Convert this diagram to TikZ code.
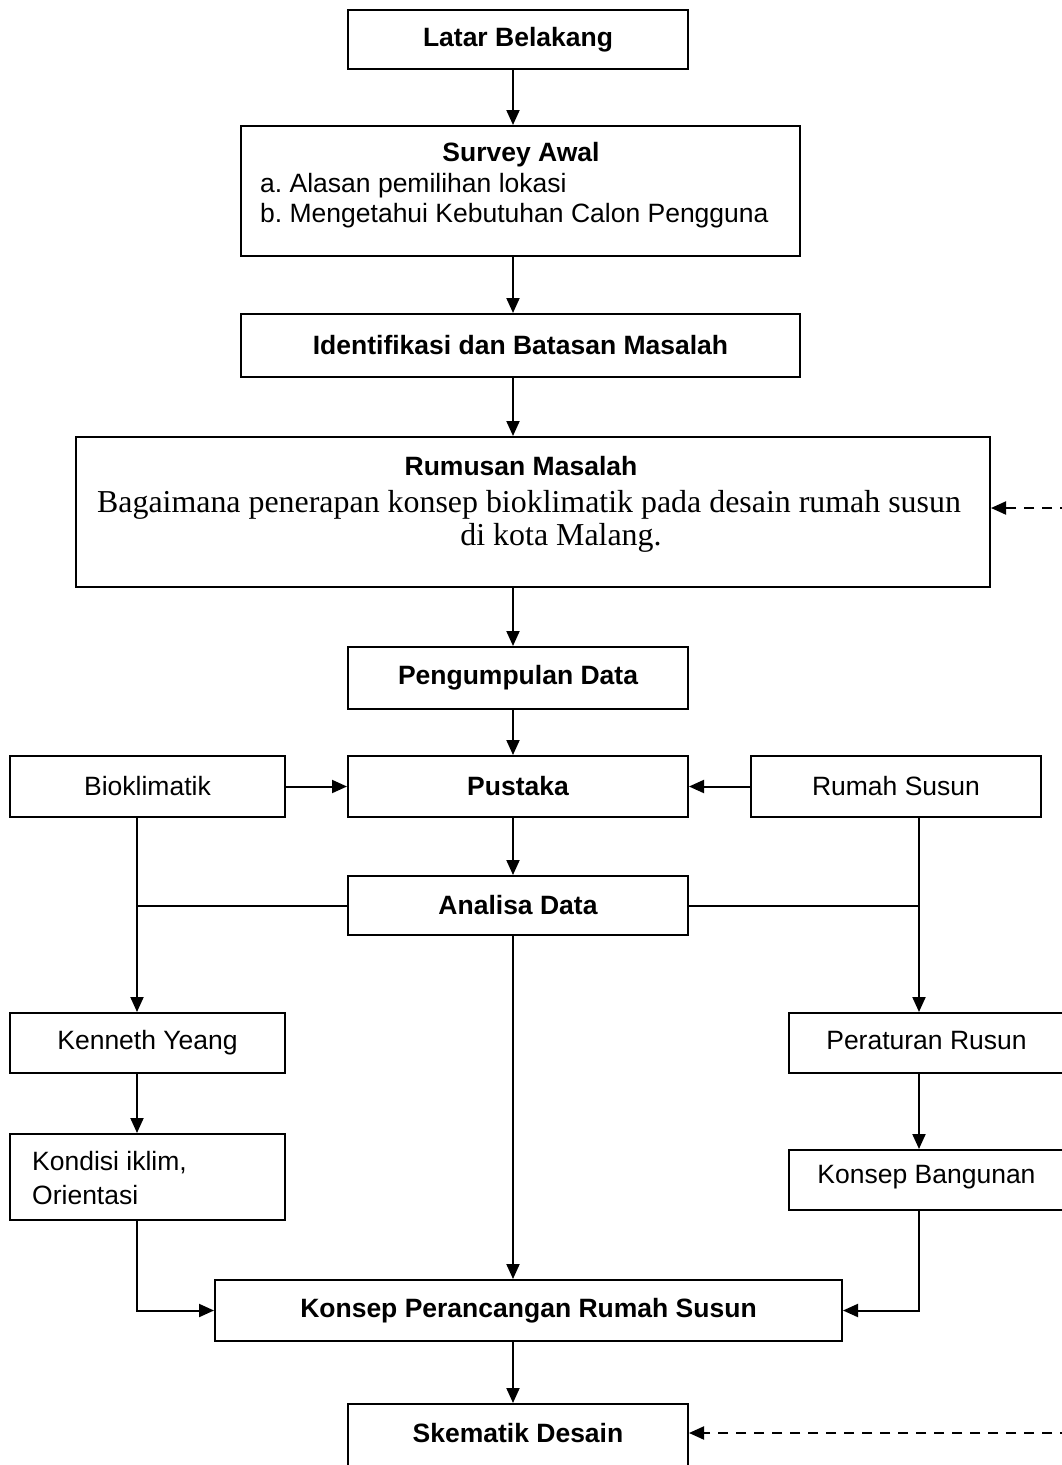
\documentclass[tikz,border=0pt]{standalone}
\usepackage{fontspec}
\setmainfont{Liberation Sans}
\newfontfamily\timesfont{Liberation Serif}
\usetikzlibrary{arrows.meta}
\frenchspacing
\tikzset{
  box/.style={draw, line width=2pt, inner sep=0pt, align=center, font=\fontsize{26.5}{30}\selectfont},
  arr/.style={line width=2pt, -{Triangle[length=15pt,width=13pt]}},
  plain/.style={line width=2pt},
  dasharr/.style={line width=2pt, dash pattern=on 10pt off 8pt, -{Triangle[length=15pt,width=13pt]}},
  txt/.style={inner sep=0pt, font=\fontsize{26.5}{30}\selectfont},
  serif/.style={inner sep=0pt, font=\timesfont\fontsize{31.9}{36}\selectfont}
}
\begin{document}
\begin{tikzpicture}[x=1pt,y=-1pt]
\useasboundingbox (0,0) rectangle (1062,1465);
\clip (0,0) rectangle (1062,1465);
\fill[white] (0,0) rectangle (1062,1465);

% boxes
\node[box, minimum width=340pt, minimum height=59pt] (latar) at (518,39.5) {\bfseries Latar Belakang};
\node[box, minimum width=559pt, minimum height=130pt] (survey) at (520.5,191) {};
\node[txt, anchor=base] (surveyT) at (521,161) {\bfseries Survey Awal};
\node[txt, anchor=base west] (surveyA) at (260,192) {a. Alasan pemilihan lokasi};
\node[txt, anchor=base west] (surveyB) at (260,222) {b. Mengetahui Kebutuhan Calon Pengguna};

\node[box, minimum width=559pt, minimum height=63pt] (ident) at (520.5,345.5) {\bfseries Identifikasi dan Batasan Masalah};

\node[box, minimum width=914pt, minimum height=150pt] (rumusan) at (533,512) {};
\node[txt, anchor=base] (rumusanT) at (521,475) {\bfseries Rumusan Masalah};
\node[serif, anchor=base] (rumusanA) at (529,512) {Bagaimana penerapan konsep bioklimatik pada desain rumah susun};
\node[serif, anchor=base] (rumusanB) at (561,545) {di kota Malang.};

\node[box, minimum width=340pt, minimum height=62pt] (kumpul) at (518,678) {\bfseries Pengumpulan Data};
\node[box, minimum width=340pt, minimum height=61pt] (pustaka) at (518,786.5) {\bfseries Pustaka};
\node[box, minimum width=275pt, minimum height=61pt] (bio) at (147.5,786.5) {Bioklimatik};
\node[box, minimum width=290pt, minimum height=61pt] (rumah) at (896,786.5) {Rumah Susun};
\node[box, minimum width=340pt, minimum height=59pt] (analisa) at (518,905.5) {\bfseries Analisa Data};

\node[box, minimum width=275pt, minimum height=60pt] (kenneth) at (147.5,1043) {Kenneth Yeang};
\node[box, minimum width=276pt, minimum height=60pt] (peraturan) at (927,1043) {};
\node[txt] (peraturanT) at (926.5,1040) {Peraturan Rusun};

\node[box, minimum width=275pt, minimum height=86pt] (kondisi) at (147.5,1177) {};
\node[txt, anchor=base west] (kondisiA) at (32,1170) {Kondisi iklim,};
\node[txt, anchor=base west] (kondisiB) at (32,1204) {Orientasi};

\node[box, minimum width=276pt, minimum height=60pt] (konsepb) at (927,1180) {};
\node[txt] (konsepbT) at (926.5,1177) {Konsep Bangunan};

\node[box, minimum width=627pt, minimum height=61pt] (rancang) at (528.5,1310.5) {\bfseries Konsep Perancangan Rumah Susun};

\node[box, minimum width=340pt, minimum height=80pt] (skema) at (518,1444) {};
\node[txt, font=\fontsize{26.5}{30}\selectfont\bfseries] (skemaT) at (518,1433) {Skematik Desain};

% helper coordinates
\coordinate (cx) at (513,0);
\coordinate (lx) at (137,0);
\coordinate (rx) at (919,0);
\coordinate (d1) at (1070,508);
\coordinate (d2) at (1070,1433);

% connectors
\draw[arr] (latar.south -| cx) -- (survey.north -| cx);
\draw[arr] (survey.south -| cx) -- (ident.north -| cx);
\draw[arr] (ident.south -| cx) -- (rumusan.north -| cx);
\draw[arr] (rumusan.south -| cx) -- (kumpul.north -| cx);
\draw[arr] (kumpul.south -| cx) -- (pustaka.north -| cx);
\draw[arr] (bio.east) -- (pustaka.west);
\draw[arr] (rumah.west) -- (pustaka.east);
\draw[arr] (pustaka.south -| cx) -- (analisa.north -| cx);

\draw[arr] (bio.south -| lx) -- (kenneth.north -| lx);
\draw[plain] (analisa.west) -- (analisa.west -| lx);
\draw[arr] (rumah.south -| rx) -- (peraturan.north -| rx);
\draw[plain] (analisa.east) -- (analisa.east -| rx);

\draw[arr] (kenneth.south -| lx) -- (kondisi.north -| lx);
\draw[arr] (peraturan.south -| rx) -- (konsepb.north -| rx);

\draw[arr] (analisa.south -| cx) -- (rancang.north -| cx);
\draw[arr] (kondisi.south -| lx) |- (rancang.west);
\draw[arr] (konsepb.south -| rx) |- (rancang.east);

\draw[arr] (rancang.south -| cx) -- (skema.north -| cx);

\draw[dasharr] (d1) -- (d1 -| rumusan.east);
\draw[dasharr] (d2) -- (d2 -| skema.east);
\end{tikzpicture}
\end{document}
